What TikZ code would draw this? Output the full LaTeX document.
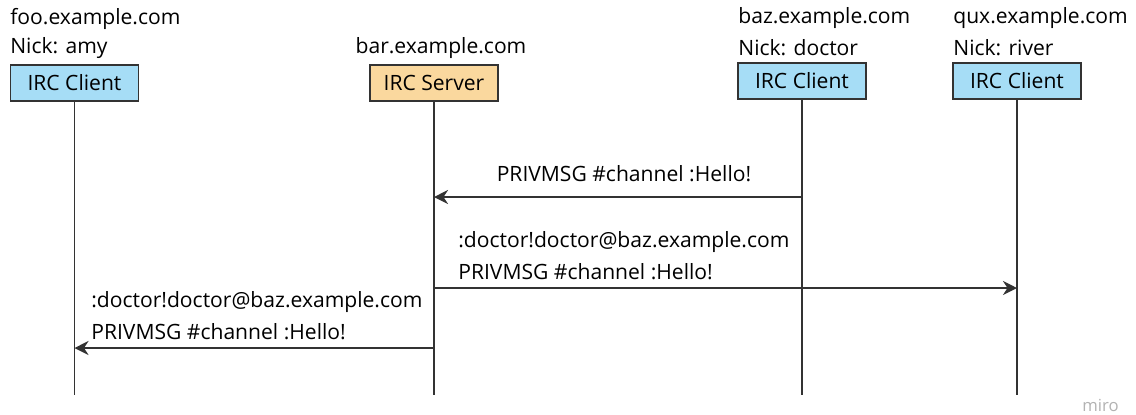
\documentclass[tikz,border=0pt]{standalone}
\usepackage{fontspec}
\setmainfont{Open Sans}
\usepackage{xcolor}
\usetikzlibrary{arrows.meta}

\definecolor{clientblue}{RGB}{166,221,246}
\definecolor{serverorange}{RGB}{250,216,158}
\definecolor{linegray}{RGB}{51,51,51}

\tikzset{
  host/.style={draw=linegray, line width=0.9pt, minimum width=2.56cm, minimum height=0.72cm, inner sep=0pt, font=\fontsize{12}{14}\selectfont},
  client/.style={host, fill=clientblue},
  server/.style={host, fill=serverorange},
  lbl/.style={anchor=west, inner sep=0pt, font=\fontsize{12}{14}\selectfont},
  lifeline/.style={linegray, line width=0.9pt},
  msg/.style={linegray, line width=0.9pt, -{Stealth[length=8pt, width=8pt]}}
}

\begin{document}
\begin{tikzpicture}[x=0.02cm, y=-0.02cm]
    \useasboundingbox (0,0) rectangle (1136,414);

    % hosts
    \node[client] (foo) at (74.5,83) {IRC Client};
    \node[server] (bar) at (434,83) {IRC Server};
    \node[client] (baz) at (802,81) {IRC Client};
    \node[client] (qux) at (1017,81) {IRC Client};

    % labels
    \node[lbl] (foohost) at (10,19) {foo.example.com};
    \node[lbl] (foonick) at (10,48) {Nick: amy};
    \node[lbl, anchor=center] (barhost) at (441,48) {bar.example.com};
    \node[lbl] (bazhost) at (738,18) {baz.example.com};
    \node[lbl] (baznick) at (738,48) {Nick: doctor};
    \node[lbl] (quxhost) at (953,18) {qux.example.com};
    \node[lbl] (quxnick) at (953,48) {Nick: river};

    % lifelines
    \coordinate (fooend) at (foo.south |- 0,395);
    \coordinate (barend) at (bar.south |- 0,395);
    \coordinate (bazend) at (baz.south |- 0,395);
    \coordinate (quxend) at (qux.south |- 0,395);
    \draw[lifeline] (foo.south) -- (fooend);
    \draw[lifeline] (bar.south) -- (barend);
    \draw[lifeline] (baz.south) -- (bazend);
    \draw[lifeline] (qux.south) -- (quxend);

    % messages
    \coordinate (baz1) at (baz.south |- 0,197);
    \coordinate (bar1) at (bar.south |- 0,197);
    \coordinate (bar2) at (bar.south |- 0,288);
    \coordinate (qux2) at (qux.south |- 0,288);
    \coordinate (bar3) at (bar.south |- 0,348);
    \coordinate (foo3) at (foo.south |- 0,348);
    \draw[msg] (baz1) -- (bar1);
    \draw[msg] (bar2) -- (qux2);
    \draw[msg] (bar3) -- (foo3);

    \node[lbl, anchor=center] (msg1) at (624,174) {PRIVMSG \#channel :Hello!};
    \node[lbl] (msg2a) at (458,242) {:doctor!doctor@baz.example.com};
    \node[lbl] (msg2b) at (458,272) {PRIVMSG \#channel :Hello!};
    \node[lbl] (msg3a) at (91,302) {:doctor!doctor@baz.example.com};
    \node[lbl] (msg3b) at (91,332) {PRIVMSG \#channel :Hello!};

    % watermark
    \node[lbl, anchor=east, text=gray!60, font=\fontsize{9.5}{11}\selectfont] (miro) at (1119,405) {miro};
\end{tikzpicture}
\end{document}
